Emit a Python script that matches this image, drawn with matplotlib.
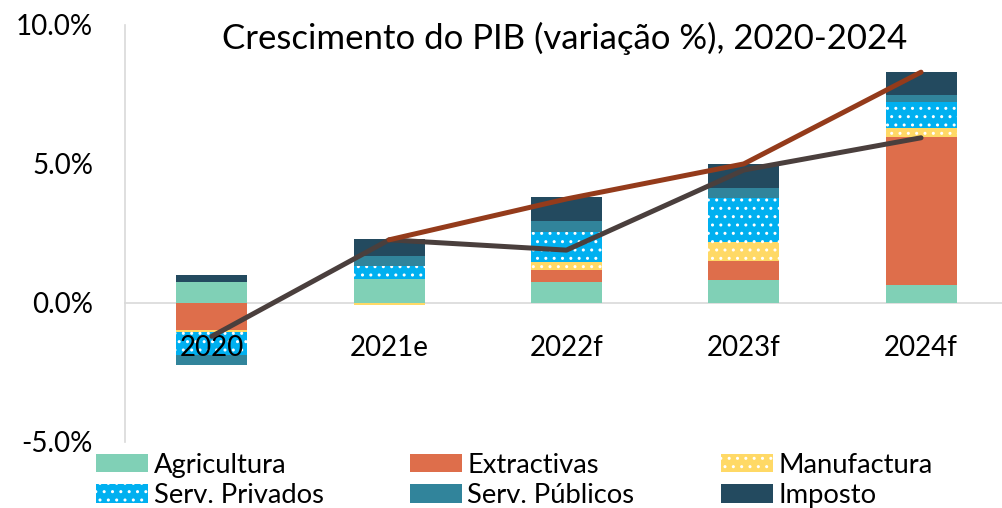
import numpy as np
import matplotlib
matplotlib.use("Agg")
import matplotlib.pyplot as plt
from matplotlib.patches import Patch

categories = ['2020', '2021e', '2022f', '2023f', '2024f']
agricultura = [0.75, 0.86, 0.76, 0.83, 0.66]
extractivas = [-0.99, -0.02, 0.41, 0.68, 5.31]
manufactura = [-0.05, -0.06, 0.31, 0.69, 0.32]
serv_privados = [-0.83, 0.48, 1.07, 1.56, 0.94]
serv_publicos = [-0.35, 0.35, 0.41, 0.36, 0.24]
imposto = [0.26, 0.61, 0.84, 0.86, 0.84]
linha_escura = [-1.2, 2.27, 1.9, 4.78, 5.94]
linha_vermelha = [np.nan, 2.27, 3.74, 5.0, 8.3]
yticks = [-5, 0, 5, 10]

plt.rcParams['font.family'] = ['Lato', 'DejaVu Sans']
plt.rcParams['hatch.linewidth'] = 1.0

fig = plt.figure(figsize=(10.03, 5.08), dpi=100)
ax = fig.add_axes([0.1246, 0.130, 0.875, 0.821])

for s in ['top', 'right']:
    ax.spines[s].set_visible(False)
ax.spines['bottom'].set_position(('data', 0))
ax.spines['bottom'].set_color('#D9D9D9')
ax.spines['bottom'].set_linewidth(1.2)
ax.spines['left'].set_color('#D9D9D9')
ax.spines['left'].set_linewidth(1.2)
ax.spines['bottom'].set_zorder(1)
ax.spines['left'].set_zorder(1)

x = np.arange(len(categories))
series = [
    ('Agricultura', agricultura, '#80D0B6', None),
    ('Extractivas', extractivas, '#DE6E4B', None),
    ('Manufactura', manufactura, '#FFD966', '..'),
    ('Serv. Privados', serv_privados, '#00B0F0', '..'),
    ('Serv. Públicos', serv_publicos, '#31849B', None),
    ('Imposto', imposto, '#234A5F', None),
]
pos = np.zeros(len(x))
neg = np.zeros(len(x))
handles = {}
for name, vals, col, hatch in series:
    v = np.array(vals)
    bottom = np.where(v >= 0, pos, neg)
    if hatch:
        ax.bar(x, v, 0.4, bottom=bottom, color=col, edgecolor='white',
               hatch=hatch, linewidth=0, zorder=2)
        handles[name] = Patch(facecolor=col, edgecolor='white', hatch=hatch, linewidth=0)
    else:
        ax.bar(x, v, 0.4, bottom=bottom, color=col, linewidth=0, zorder=2)
        handles[name] = Patch(facecolor=col, linewidth=0)
    pos = pos + np.where(v >= 0, v, 0)
    neg = neg + np.where(v < 0, v, 0)

ax.plot(x, linha_escura, color='#4A3F3D', lw=3.6, solid_capstyle='round', zorder=4)
ax.plot(x, linha_vermelha, color='#943B1B', lw=3.6, solid_capstyle='round', zorder=5)

ax.set_ylim(-5, 10)
ax.set_xlim(-0.49, 4.46)
ax.set_yticks(yticks)
ax.set_yticklabels([f'{t:.1f}%' for t in yticks], fontsize=20)
ax.set_xticks(x)
ax.set_xticklabels(categories, fontsize=20)
ax.tick_params(axis='y', length=0, pad=23)
ax.tick_params(axis='x', length=0, pad=23)
ax.xaxis.set_zorder(3)

fig.text(565 / 1003, 1 - 38 / 508, 'Crescimento do PIB (variação %), 2020-2024',
         ha='center', va='center', fontsize=25)

order = ['Agricultura', 'Serv. Privados', 'Extractivas', 'Serv. Públicos', 'Manufactura', 'Imposto']
fig.legend([handles[n] for n in order], order, ncol=3, loc='lower left',
           bbox_to_anchor=(0.085, -0.022), frameon=False, fontsize=19.7,
           handlelength=1.9, handleheight=0.66, handletextpad=0.2,
           columnspacing=3.15, labelspacing=0.2, borderaxespad=0)

fig.savefig('out.png', dpi=100)
